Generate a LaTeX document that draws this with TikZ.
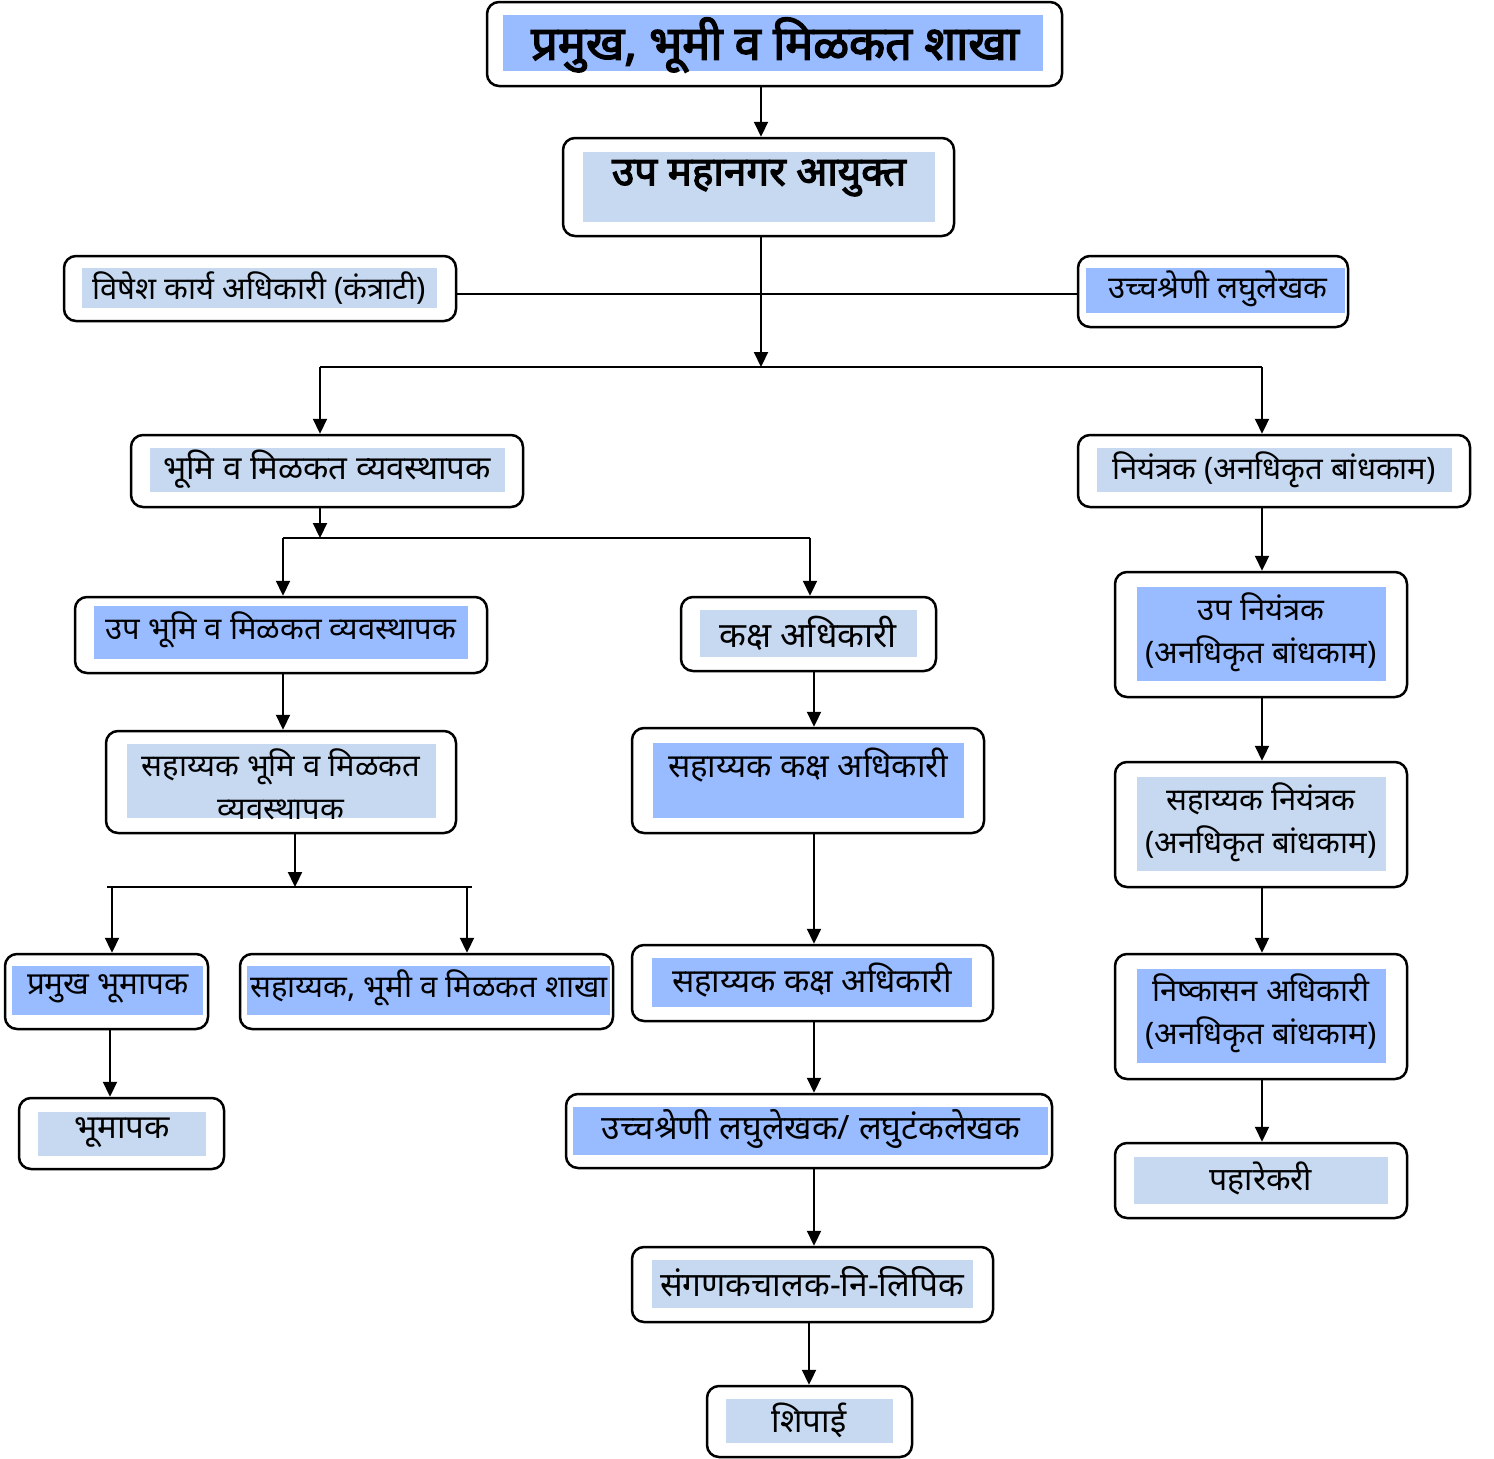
\documentclass[tikz,border=0pt]{standalone}
\usepackage{fontspec}
\newfontfamily\dev[Script=Devanagari]{Noto Sans}
\newfontfamily\devbold[Script=Devanagari,FakeBold=3]{Noto Sans}
\usetikzlibrary{arrows.meta,fit,calc}
\definecolor{dk}{RGB}{153,187,255}
\definecolor{lt}{RGB}{198,217,241}
\begin{document}
\begin{tikzpicture}[x=1pt,y=-1pt,
  box/.style={draw, line width=2.5pt, rounded corners=12pt, inner sep=0pt},
  arr/.style={line width=2.2pt, -{Triangle[length=15pt,width=14pt]}},
  ln/.style={line width=2.2pt},
  txt/.style={font=\dev\fontsize{#1}{43}\selectfont, inner sep=0pt, align=center},
  txt/.default=31,
  big/.style={font=\devbold\fontsize{47}{54}\selectfont, inner sep=0pt},
  mid/.style={font=\devbold\fontsize{40.5}{46}\selectfont, inner sep=0pt}]
\useasboundingbox (0,0) rectangle (1494,1459);
% fills
\fill[dk] (503,15) rectangle (1043,71);
\fill[lt] (583,152) rectangle (935,222);
\fill[lt] (82,268) rectangle (437,308);
\fill[dk] (1086,268) rectangle (1345,313);
\fill[lt] (150,448) rectangle (505,492);
\fill[lt] (1097,448) rectangle (1452,492);
\fill[dk] (94,606) rectangle (468,659);
\fill[lt] (700,610) rectangle (917,657);
\fill[lt] (127,744) rectangle (436,818);
\fill[dk] (653,743) rectangle (964,818);
\fill[dk] (12,966) rectangle (203,1015);
\fill[dk] (247,966) rectangle (610,1015);
\fill[lt] (38,1112) rectangle (206,1156);
\fill[dk] (652,958) rectangle (972,1007);
\fill[dk] (573,1107) rectangle (1048,1155);
\fill[lt] (652,1260) rectangle (973,1308);
\fill[lt] (726,1399) rectangle (893,1443);
\fill[dk] (1137,587) rectangle (1386,681);
\fill[lt] (1137,777) rectangle (1386,871);
\fill[dk] (1137,969) rectangle (1386,1063);
\fill[lt] (1134,1157) rectangle (1388,1204);
% boxes
\node[box, fit={(487,2)(1062,86)}] (top) {};
\node[box, fit={(563,138)(954,236)}] (dmc) {};
\node[box, fit={(64,256)(456,321)}] (vk) {};
\node[box, fit={(1078,256)(1348,327)}] (ul) {};
\node[box, fit={(131,435)(523,507)}] (bmv) {};
\node[box, fit={(1078,435)(1470,507)}] (niy) {};
\node[box, fit={(75,597)(487,673)}] (ubmv) {};
\node[box, fit={(681,597)(936,671)}] (kak) {};
\node[box, fit={(106,731)(456,833)}] (sbmv) {};
\node[box, fit={(632,728)(984,833)}] (ska1) {};
\node[box, fit={(5,954)(208,1029)}] (pbm) {};
\node[box, fit={(240,954)(613,1029)}] (sbms) {};
\node[box, fit={(19,1098)(224,1169)}] (bm) {};
\node[box, fit={(632,945)(993,1021)}] (ska2) {};
\node[box, fit={(566,1094)(1052,1168)}] (ulg) {};
\node[box, fit={(632,1247)(993,1322)}] (sng) {};
\node[box, fit={(707,1386)(912,1457)}] (sip) {};
\node[box, fit={(1115,572)(1407,697)}] (uni) {};
\node[box, fit={(1115,762)(1407,887)}] (sni) {};
\node[box, fit={(1115,954)(1407,1079)}] (nis) {};
\node[box, fit={(1115,1143)(1407,1218)}] (pah) {};
% texts
\node[big] (t-top) at (775,45) {प्रमुख, भूमी व मिळकत शाखा};
\node[mid] (t-dmc) at (759,178) {उप महानगर आयुक्त};
\node[txt] (t-vk) at (259,288) {विषेश कार्य अधिकारी (कंत्राटी)};
\node[txt] (t-ul) at (1218,289) {उच्चश्रेणी लघुलेखक};
\node[txt=33] (t-bmv) at (327,469) {भूमि व मिळकत व्यवस्थापक};
\node[txt] (t-niy) at (1274,470) {नियंत्रक (अनधिकृत बांधकाम)};
\node[txt] (t-ubmv) at (281,630) {उप भूमि व मिळकत व्यवस्थापक};
\node[txt=35] (t-kak) at (808,633) {कक्ष अधिकारी};
\node[txt] (t-sbmv) at (281,784) {सहाय्यक भूमि व मिळकत\\व्यवस्थापक};
\node[txt=33] (t-ska1) at (808,765) {सहाय्यक कक्ष अधिकारी};
\node[txt=31.5] (t-pbm) at (108,989) {प्रमुख भूमापक};
\node[txt] (t-sbms) at (429,988) {सहाय्यक, भूमी व मिळकत शाखा};
\node[txt=33] (t-bm) at (122,1133) {भूमापक};
\node[txt=33] (t-ska2) at (812,980) {सहाय्यक कक्ष अधिकारी};
\node[txt=33.5] (t-ulg) at (811,1129) {उच्चश्रेणी लघुलेखक/ लघुटंकलेखक};
\node[txt=33.5] (t-sng) at (812,1282) {संगणकचालक-नि-लिपिक};
\node[txt=33] (t-sip) at (809,1420) {शिपाई};
\node[txt] (t-uni) at (1261,632) {उप नियंत्रक\\(अनधिकृत बांधकाम)};
\node[txt] (t-sni) at (1261,822) {सहाय्यक नियंत्रक\\(अनधिकृत बांधकाम)};
\node[txt] (t-nis) at (1261,1013) {निष्कासन अधिकारी\\(अनधिकृत बांधकाम)};
\node[txt=32] (t-pah) at (1261,1178) {पहारेकरी};
% connectors
\coordinate (c0) at (761,294);
\coordinate (j1) at (761,367);
\coordinate (a1) at (320,367);
\coordinate (a2) at (1262,367);
\coordinate (b0) at (320,538);
\coordinate (b1) at (283,538);
\coordinate (b2) at (810,538);
\coordinate (cx) at (814,0);
\coordinate (d0) at (295,887);
\coordinate (d1) at (107,887);
\coordinate (d2) at (472,887);
\coordinate (d3) at (112,887);
\coordinate (d4) at (467,887);
\coordinate (e0) at (110,0);
\coordinate (f0) at (809,0);
\coordinate (rx) at (1262,0);
\draw[arr] (j1 |- top.south) -- (j1 |- dmc.north);
\draw[arr] (j1 |- dmc.south) -- (j1);
\draw[ln] (vk.east |- c0) -- (ul.west |- c0);
\draw[ln] (a1) -- (a2);
\draw[arr] (a1) -- (a1 |- bmv.north);
\draw[arr] (a2) -- (a2 |- niy.north);
\draw[arr] (b0 |- bmv.south) -- (b0);
\draw[ln] (b1) -- (b2);
\draw[arr] (b1) -- (b1 |- ubmv.north);
\draw[arr] (b2) -- (b2 |- kak.north);
\draw[arr] (b1 |- ubmv.south) -- (b1 |- sbmv.north);
\draw[arr] (cx |- kak.south) -- (cx |- ska1.north);
\draw[arr] (d0 |- sbmv.south) -- (d0);
\draw[ln] (d1) -- (d2);
\draw[arr] (d3) -- (d3 |- pbm.north);
\draw[arr] (d4) -- (d4 |- sbms.north);
\draw[arr] (e0 |- pbm.south) -- (e0 |- bm.north);
\draw[arr] (cx |- ska1.south) -- (cx |- ska2.north);
\draw[arr] (cx |- ska2.south) -- (cx |- ulg.north);
\draw[arr] (cx |- ulg.south) -- (cx |- sng.north);
\draw[arr] (f0 |- sng.south) -- (f0 |- sip.north);
\draw[arr] (rx |- niy.south) -- (rx |- uni.north);
\draw[arr] (rx |- uni.south) -- (rx |- sni.north);
\draw[arr] (rx |- sni.south) -- (rx |- nis.north);
\draw[arr] (rx |- nis.south) -- (rx |- pah.north);
\end{tikzpicture}
\end{document}
